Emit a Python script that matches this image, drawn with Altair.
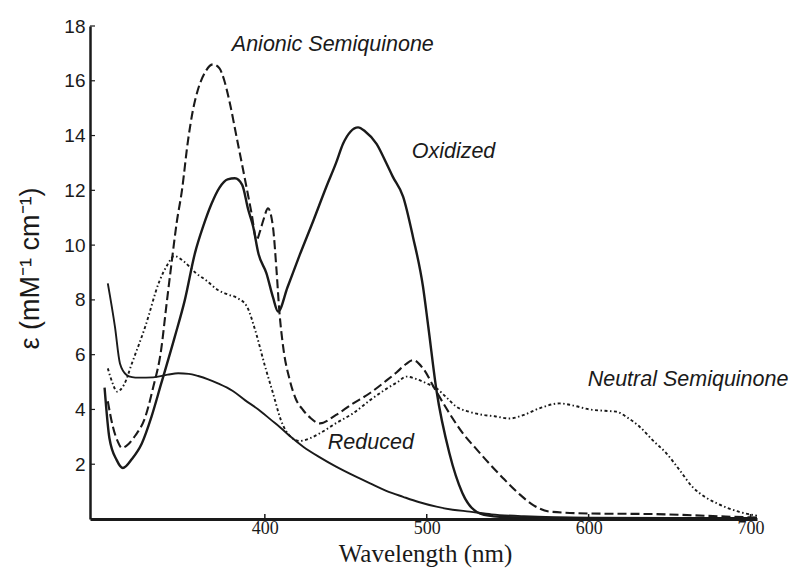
import altair as alt
import pandas as pd

# ---- data (wavelength nm, epsilon mM^-1 cm^-1) ----
ox_wl = [301, 304, 308.5, 312.3, 318, 324, 330, 336, 344.4, 350.6, 356.8, 362, 367, 372, 377,
         381.5, 386, 389.7, 392.8, 396, 401, 405, 408.2, 414, 421.6, 430, 438, 444, 448.3, 453,
         457.6, 462, 469, 475, 479, 485.4, 491.5, 497.7, 501, 506, 514, 522, 533, 545, 560, 600,
         650, 704]
ox_eps = [4.8, 2.95, 2.15, 1.86, 2.2, 2.76, 3.74, 4.95, 6.66, 8.0, 9.7, 10.7, 11.5, 12.1, 12.4,
          12.44, 12.2, 11.3, 10.67, 9.7, 8.97, 8.1, 7.57, 8.46, 9.65, 10.9, 12.13, 13.0, 13.7, 14.15,
          14.3, 14.15, 13.7, 13.0, 12.5, 11.77, 10.3, 8.48, 7.0, 4.7, 2.4, 0.95, 0.2, 0.08, 0.05, 0.03,
          0.03, 0.03]

red_wl = [303, 307.4, 310.5, 314.6, 318, 322, 331, 340, 346.5, 353, 358.8, 365, 371, 380, 387.7,
          396, 404, 409, 416, 423.7, 434, 444, 455, 465, 475, 485.4, 495, 506, 516, 526.5, 540,
          560, 600, 704]
red_eps = [8.6, 7.02, 5.68, 5.26, 5.18, 5.16, 5.17, 5.27, 5.32, 5.3, 5.22, 5.1, 4.95, 4.68, 4.34,
           4.0, 3.61, 3.37, 3.0, 2.64, 2.25, 1.91, 1.58, 1.3, 1.03, 0.81, 0.62, 0.45, 0.34, 0.27, 0.17,
           0.1, 0.05, 0.03]

an_wl = [303, 306, 309, 311.7, 316, 320, 326, 331, 336, 339, 342.6, 345.5, 348.8, 352.5, 355.5,
         358.6, 363, 368, 372, 375, 378.4, 382.5, 386.6, 391.8, 394.9, 397, 399, 402, 405, 407.2,
         408.9, 411.3, 415.4, 419, 423.6, 428, 434, 444, 454, 465, 475, 481.3, 487, 491.5, 497.7,
         505, 514, 522, 530.7, 539, 547, 557.4, 566, 576, 600, 640, 680, 704]
an_eps = [4.3, 3.4, 2.85, 2.6, 2.75, 3.05, 3.7, 4.8, 6.2, 7.7, 9.45, 10.8, 12.0, 13.8, 14.9,
          15.66, 16.3, 16.6, 16.45, 16.0, 15.18, 13.96, 12.74, 11.16, 10.19, 10.5, 10.9, 11.34, 10.67,
          9.09, 7.63, 6.29, 5.07, 4.4, 3.98, 3.7, 3.49, 3.8, 4.2, 4.6, 5.05, 5.35, 5.65, 5.8, 5.5,
          4.75, 3.86, 3.15, 2.55, 2.0, 1.5, 0.9, 0.5, 0.27, 0.2, 0.18, 0.1, 0.05]

ne_wl = [303, 306, 308.6, 313, 318, 326, 335, 340, 344, 350, 357, 364, 371, 377, 383, 389,
         394, 400, 405, 410, 416, 421.6, 428, 434, 444, 454.5, 465, 475, 482, 487.5, 494, 500,
         506, 512, 518.3, 526, 534.8, 542, 551, 560, 570, 582, 590, 600.6, 610, 617, 624, 631.5,
         640, 648, 656, 664, 672, 679, 686, 693, 704]
ne_eps = [5.5, 4.95, 4.65, 4.9, 5.7, 7.0, 8.7, 9.3, 9.6, 9.4, 9.0, 8.7, 8.36, 8.2, 8.07, 7.75,
          6.9, 5.6, 4.6, 3.6, 3.0, 2.85, 2.95, 3.13, 3.5, 3.86, 4.34, 4.75, 5.0, 5.2, 5.1, 4.95,
          4.77, 4.45, 4.1, 3.92, 3.8, 3.75, 3.67, 3.8, 4.05, 4.22, 4.15, 4.0, 3.95, 3.92, 3.7, 3.37,
          2.85, 2.4, 1.8, 1.18, 0.8, 0.58, 0.4, 0.26, 0.12]

label_text = ["Anionic Semiquinone", "Oxidized", "Reduced", "Neutral Semiquinone"]
label_wl = [379.6, 490.7, 438.9, 599.4]
label_eps = [17.3, 13.4, 2.77, 5.07]

x_ticks = [400, 500, 600, 700]
y_ticks = [2, 4, 6, 8, 10, 12, 14, 16, 18]

# ---- tables ----
def frame(wl, ep):
    return pd.DataFrame({"wl": wl, "eps": ep})

df_ox = frame(ox_wl, ox_eps)
df_red = frame(red_wl, red_eps)
df_an = frame(an_wl, an_eps)
df_ne = frame(ne_wl, ne_eps)
df_lab = pd.DataFrame({"wl": label_wl, "eps": label_eps, "text": label_text})
df_xt = pd.DataFrame({"v": x_ticks})
df_yt = pd.DataFrame({"v": y_ticks})

W, H = 667, 493
INK = "#1a1a1a"

xscale = alt.Scale(domain=[292, 704], nice=False, zero=False)
yscale = alt.Scale(domain=[0, 18], nice=False, zero=False)

xaxis = alt.Axis(values=x_ticks, title="Wavelength (nm)", grid=False, ticks=False, tickSize=0,
                 domainColor=INK, domainWidth=3, labelFont="Liberation Serif", labelFontSize=18,
                 labelColor=INK, labelPadding=0, titleFont="Liberation Serif", titleFontSize=25,
                 titleFontWeight="normal", titleColor=INK, titleX=335, titleY=42,
                 titleAlign="center", titleBaseline="alphabetic")
yaxis = alt.Axis(values=y_ticks, title="ε (mM⁻¹ cm⁻¹)", grid=False, ticks=False, tickSize=0,
                 domainColor=INK, domainWidth=2.5, labelFont="Liberation Sans", labelFontSize=19,
                 labelColor=INK, labelPadding=5, titleFont="Liberation Sans", titleFontSize=27,
                 titleFontWeight="normal", titleColor=INK, titleAngle=270, titleX=-60, titleY=242,
                 titleAlign="center", titleBaseline="middle")

def line(df, width, dash=None):
    kw = dict(color=INK, strokeWidth=width, interpolate="monotone", clip=True)
    if dash:
        kw["strokeDash"] = dash
    return alt.Chart(df).mark_line(**kw).encode(
        x=alt.X("wl:Q", scale=xscale, axis=xaxis),
        y=alt.Y("eps:Q", scale=yscale, axis=yaxis),
    )

ox = line(df_ox, 2.4)
red = line(df_red, 1.9)
an = line(df_an, 2.1, [9, 4])
ne = line(df_ne, 1.9, [3, 2.5, 1.5, 2.5])

labels = alt.Chart(df_lab).mark_text(
    align="left", baseline="middle", font="Liberation Sans", fontSize=21.5,
    fontStyle="italic", color=INK
).encode(x=alt.X("wl:Q", scale=xscale), y=alt.Y("eps:Q", scale=yscale), text="text:N")

yt = alt.Chart(df_yt).mark_rule(color=INK, strokeWidth=1.2).encode(
    y=alt.Y("v:Q", scale=yscale), x=alt.value(0), x2=alt.value(5))
xt = alt.Chart(df_xt).mark_rule(color=INK, strokeWidth=1.5).encode(
    x=alt.X("v:Q", scale=xscale), y=alt.value(H), y2=alt.value(H - 5))

chart = alt.layer(ox, red, an, ne, labels, yt, xt).properties(
    width=W, height=H,
    autosize=alt.AutoSizeParams(type="none"),
    padding={"left": 90, "top": 26, "right": 42, "bottom": 50},
    background="white",
).configure_view(stroke=None)

chart.save("out.html", embed_options={"renderer": "svg", "actions": False})
